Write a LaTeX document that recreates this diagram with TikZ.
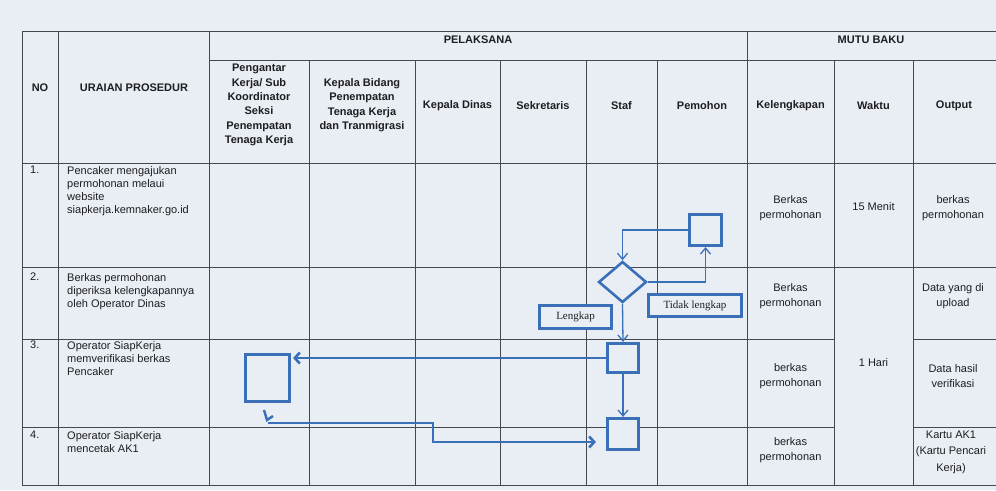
\documentclass[tikz,border=0pt]{standalone}
\usepackage{fontspec}
\setmainfont{Liberation Sans}
\newfontfamily\tms{Liberation Serif}
\usetikzlibrary{shapes.geometric,arrows.meta}
\definecolor{bg}{RGB}{233,238,245}
\definecolor{gridc}{RGB}{72,72,76}
\definecolor{flow}{RGB}{58,112,184}
\definecolor{ink}{RGB}{30,30,32}
\begin{document}
\begin{tikzpicture}[x=1pt,y=-1pt,
  gridline/.style={draw=gridc,line width=0.9pt},
  hd/.style={font=\bfseries\fontsize{11}{14.4}\selectfont,align=center,inner sep=0pt,text=ink},
  body/.style={font=\fontsize{11}{13}\selectfont,align=left,inner sep=0pt,anchor=north west,text=ink},
  mb/.style={font=\fontsize{11}{15}\selectfont,align=center,inner sep=0pt,text=ink},
  flowbox/.style={draw=flow,fill=bg,line width=2.6pt,inner sep=0pt},
  lbl/.style={font=\tms\fontsize{11}{12}\selectfont,text=ink},
  thinarr/.style={draw=flow,line width=1.3pt,-{Straight Barb[length=6pt,width=10pt]}},
  thickarr/.style={draw=flow,line width=2.6pt,-{Straight Barb[length=5pt,width=11pt]}}
]
\useasboundingbox (0,0) rectangle (996,490);
\fill[bg] (0,0) rectangle (996,490);

% grid
\draw[gridline] (22,31) -- (996,31);
\draw[gridline] (209,60) -- (996,60);
\draw[gridline] (22,163) -- (996,163);
\draw[gridline] (22,267) -- (996,267);
\draw[gridline] (22,339) -- (834,339) (913,339) -- (996,339);
\draw[gridline] (22,427) -- (834,427) (913,427) -- (996,427);
\draw[gridline] (22,485) -- (996,485);
\foreach \x in {22,58,209,747} \draw[gridline] (\x,31) -- (\x,485);
\foreach \x in {309,415,500,586,657,834,913} \draw[gridline] (\x,60) -- (\x,485);

% headers
\node[hd] (no) at (40,88) {NO};
\node[hd] (ur) at (134,88) {URAIAN PROSEDUR};
\node[hd] (pel) at (478,40) {PELAKSANA};
\node[hd] (mutu) at (871,40) {MUTU BAKU};
\node[hd] (h1) at (259,105) {Pengantar\\Kerja/ Sub\\Koordinator\\Seksi\\Penempatan\\Tenaga Kerja};
\node[hd] (h2) at (362,105) {Kepala Bidang\\Penempatan\\Tenaga Kerja\\dan Tranmigrasi};
\node[hd] (h3) at (457.5,106) {Kepala Dinas};
\node[hd] (h4) at (543,106) {Sekretaris};
\node[hd] (h5) at (621.5,106) {Staf};
\node[hd] (h6) at (702,106) {Pemohon};
\node[hd] (h7) at (790.5,106) {Kelengkapan};
\node[hd] (h8) at (873.5,106) {Waktu};
\node[hd] (h9) at (954,106) {Output};

% rows
\node[body] (n1) at (30,166) {1.};
\node[body] (u1) at (67,166) {Pencaker mengajukan\\permohonan melaui\\website\\siapkerja.kemnaker.go.id};
\node[body] (n2) at (30,273) {2.};
\node[body] (u2) at (67,273) {Berkas permohonan\\diperiksa kelengkapannya\\oleh Operator Dinas};
\node[body] (n3) at (30,341) {3.};
\node[body] (u3) at (67,341) {Operator SiapKerja\\memverifikasi berkas\\Pencaker};
\node[body] (n4) at (30,431) {4.};
\node[body] (u4) at (67,431) {Operator SiapKerja\\mencetak AK1};

\node[mb] (k1) at (790.5,208) {Berkas\\permohonan};
\node[mb] (k2) at (790.5,296) {Berkas\\permohonan};
\node[mb] (k3) at (790.5,376) {berkas\\permohonan};
\node[mb] (k4) at (790.5,450) {berkas\\permohonan};
\node[mb] (w1) at (873.5,207) {15 Menit};
\node[mb] (w2) at (873.5,363) {1 Hari};
\node[mb] (o1) at (953,208) {berkas\\permohonan};
\node[mb] (o2) at (953,296) {Data yang di\\upload};
\node[mb] (o3) at (953,376) {Data hasil\\verifikasi};
\node[mb,font=\fontsize{11}{16.5}\selectfont] (o4) at (951,452) {Kartu AK1\\(Kartu Pencari\\Kerja)};

% flow shapes
\node[flowbox,minimum width=32pt,minimum height=31.5pt] (pem) at (705.5,230) {};
\node[diamond,draw=flow,fill=bg,line width=2.6pt,minimum width=48pt,minimum height=41pt,inner sep=0pt] (dia) at (622.5,282) {};
\node[flowbox,lbl,minimum width=93pt,minimum height=22.5pt] (tidak) at (695,305.5) {Tidak lengkap};
\node[flowbox,lbl,minimum width=72.5pt,minimum height=23.5pt] (lengkap) at (575.5,317) {Lengkap};
\node[flowbox,minimum width=31.5pt,minimum height=29.5pt] (s3) at (623,358) {};
\node[flowbox,minimum width=31.5pt,minimum height=31.5pt] (s4) at (623,434) {};
\node[flowbox,minimum width=44.5pt,minimum height=47.5pt] (p3) at (267.5,378) {};

% connectors
\draw[thinarr] (pem.west) -| (dia.north);
\draw[thinarr] (dia.east) -| (pem.south);
\draw[thinarr] (dia.south) -- (s3.north);
\draw[thinarr] (s3.south) -- (s4.north);
\draw[thickarr,shorten >=2pt] (s3.west) -- (s3.west -| p3.east);
\coordinate (st) at (268,423);
\coordinate (bend) at (433,442);
\draw[thickarr,shorten >=10pt] (st) -- (st -| bend) -- (bend) -- (bend -| s4.west);
\draw[draw=flow,line width=2.4pt] (st) ++(-4,-13) -- ++(3,10) -- ++(6,-4);
\end{tikzpicture}
\end{document}
